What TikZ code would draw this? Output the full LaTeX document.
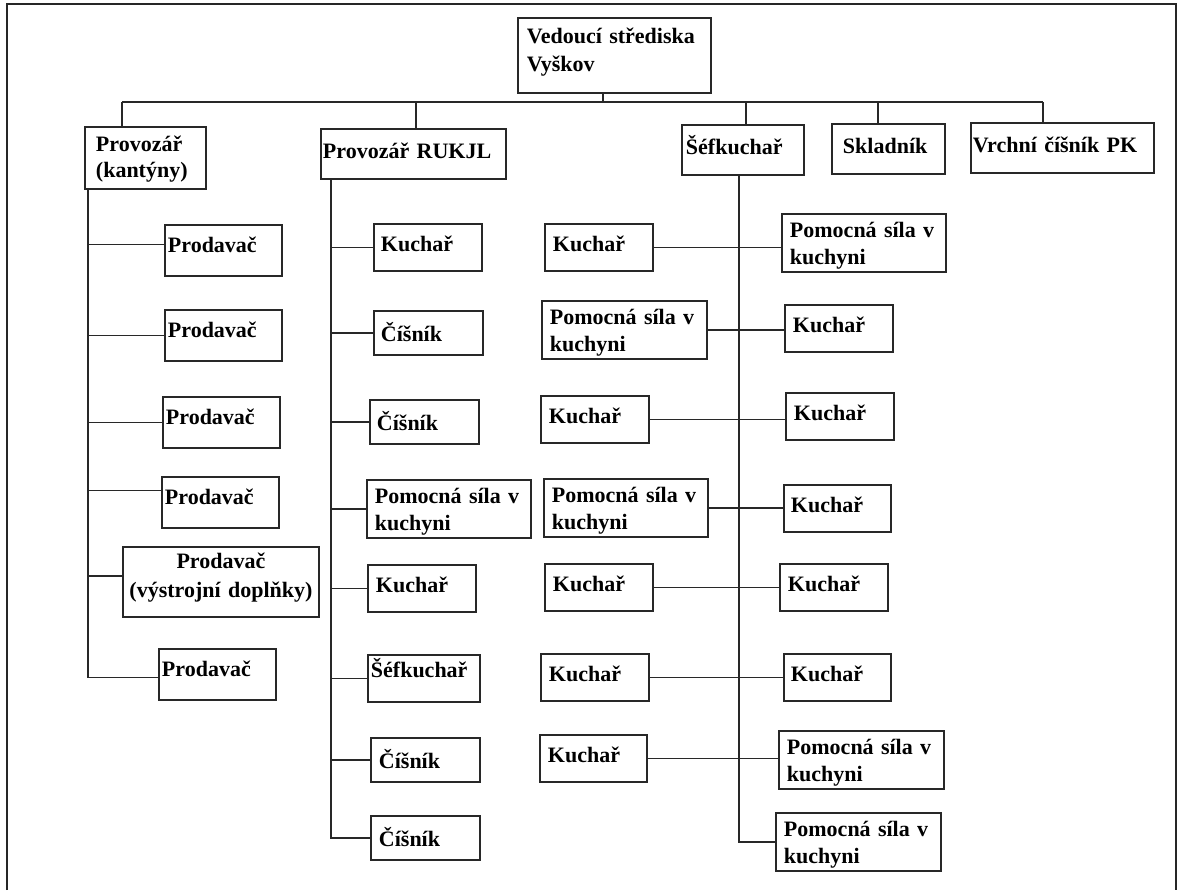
\documentclass[tikz,border=0pt]{standalone}
\usepackage{fontspec}
\setmainfont{Liberation Serif}
\definecolor{linka}{RGB}{40,40,40}

\tikzset{
  box/.style={draw=linka, line width=0.95pt, anchor=north west, inner ysep=0pt,
    align=left, font=\bfseries\fontsize{11}{13.5}\selectfont},
  % width of the box and left inset, both in px
  bw/.code 2 args={\pgfmathsetlengthmacro\boxtw{(#1-2*#2)*0.5pt}%
    \pgfmathsetlengthmacro\boxsep{#2*0.5pt}%
    \edef\boxtmp{\noexpand\tikzset{text width=\boxtw, inner xsep=\boxsep}}\boxtmp},
  one/.style={text height=14pt, text depth=9.5pt},
  prod/.style={text height=14pt, text depth=11.5pt},
  cis/.style={text height=15.5pt, text depth=6.5pt},
  two/.style={text height=11.75pt, text depth=17.25pt},
  top/.style={text height=15pt, text depth=10pt},
  line/.style={draw=linka, line width=0.95pt}
}

\begin{document}
\begin{tikzpicture}[x=0.5pt, y=-0.5pt]
  \useasboundingbox (0,0) rectangle (1181,890);
  % ramecek
  \draw[black!85, line width=1.1pt] (7,890) -- (7,4) -- (1176,4) -- (1176,890);

  % VEDOUCI
  \node[box, bw={193}{9}, text height=13pt, text depth=24.5pt,
    font=\bfseries\fontsize{11}{14}\selectfont] (root) at (517,17) {Vedoucí střediska\\Vyškov};

  % PRVNI UROVEN
  \node[box, bw={121}{11}, text height=12.5pt, text depth=18.5pt,
    font=\bfseries\fontsize{11}{13}\selectfont] (kant) at (84,126) {Provozář\\(kantýny)};
  \node[box, top, bw={185}{2}] (rukjl) at (320,128) {Provozář RUKJL};
  \node[box, top, bw={122}{4}] (sef) at (681,124) {Šéfkuchař};
  \node[box, top, bw={113}{11}] (sklad) at (831,123) {Skladník};
  \node[box, top, bw={183}{2}] (vrch) at (970,122) {Vrchní číšník PK};

  % sbernice
  \coordinate (rdrop) at (603,102);
  \draw[line] (rdrop |- root.south) -- (rdrop);
  \draw[line] (122,102) coordinate (busL) -- (1043,102) coordinate (busR);
  \foreach \x/\n in {122/kant, 416/rukjl, 746/sef, 878/sklad, 1043/vrch} {
    \coordinate (d\n) at (\x,102);
    \draw[line] (d\n) -- (d\n |- \n.north);
  }

  % KANTYNY
  \node[box, prod, bw={117}{3}] (p1) at (164,224) {Prodavač};
  \node[box, prod, bw={117}{3}] (p2) at (164,309) {Prodavač};
  \node[box, prod, bw={117}{3}] (p3) at (162,396) {Prodavač};
  \node[box, prod, bw={117}{3}] (p4) at (161,476) {Prodavač};
  \node[box, bw={196}{3}, align=center, text height=11pt, text depth=24pt,
    font=\bfseries\fontsize{11}{14.5}\selectfont] (p5) at (122,546) {Prodavač\\(výstrojní doplňky)};
  \node[box, prod, bw={117}{3}] (p6) at (158,648) {Prodavač};

  \coordinate (lv) at (88,188);
  \foreach \n/\d in {p1/3, p2/0, p3/0, p4/6, p5/3, p6/-1.5}
    \draw[line] ([yshift=\d pt]\n.west) -| (lv);

  % RUKJL
  \node[box, one, bw={108}{7}] (m1) at (373,223) {Kuchař};
  \node[box, cis, bw={109}{7}] (m2) at (373,310) {Číšník};
  \node[box, cis, bw={109}{7}] (m3) at (369,399) {Číšník};
  \node[box, two, bw={164}{8}] (m4) at (366,479) {Pomocná síla v\\kuchyni};
  \node[box, one, bw={108}{8}] (m5) at (367,564) {Kuchař};
  \node[box, bw={112}{3}, text height=11.5pt, text depth=12pt] (m6) at (367,654) {Šéfkuchař};
  \node[box, cis, bw={109}{8}] (m7) at (370,737) {Číšník};
  \node[box, cis, bw={109}{8}] (m8) at (370,815) {Číšník};

  \coordinate (mv) at (331,178);
  \foreach \n in {m1,m2,m3,m4,m5,m6,m7,m8}
    \draw[line] (\n.west) -| (mv);

  % SEFKUCHAR
  \node[box, one, bw={108}{8}] (l1) at (544,223) {Kuchař};
  \node[box, two, bw={164}{8}] (r1) at (781,213) {Pomocná síla v\\kuchyni};
  \node[box, two, bw={165}{8}] (l2) at (541,300) {Pomocná síla v\\kuchyni};
  \node[box, one, bw={108}{8}] (r2) at (784,304) {Kuchař};
  \node[box, one, bw={108}{8}] (l3) at (540,395) {Kuchař};
  \node[box, one, bw={108}{8}] (r3) at (785,392) {Kuchař};
  \node[box, two, bw={164}{8}] (l4) at (543,478) {Pomocná síla v\\kuchyni};
  \node[box, one, bw={107}{7}] (r4) at (783,484) {Kuchař};
  \node[box, one, bw={108}{8}] (l5) at (544,563) {Kuchař};
  \node[box, one, bw={108}{8}] (r5) at (779,563) {Kuchař};
  \node[box, one, bw={108}{8}] (l6) at (540,653) {Kuchař};
  \node[box, one, bw={107}{7}] (r6) at (783,653) {Kuchař};
  \node[box, one, bw={107}{8}] (l7) at (539,734) {Kuchař};
  \node[box, two, bw={165}{8}] (r7) at (778,730) {Pomocná síla v\\kuchyni};
  \node[box, two, bw={165}{8}] (r8) at (775,812) {Pomocná síla v\\kuchyni};

  \coordinate (rv) at (739,174);
  \draw[line] (r8.west) -| (rv);
  \foreach \i in {1,...,7}
    \draw[line] (l\i.east) -- (l\i.east -| r\i.west);
\end{tikzpicture}
\end{document}
